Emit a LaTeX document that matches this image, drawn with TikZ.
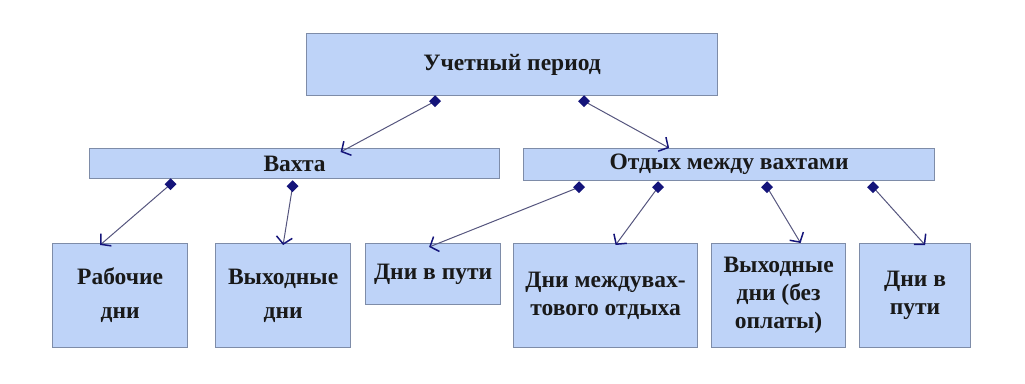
\documentclass[tikz,border=0pt]{standalone}
\usepackage{fontspec}
\setmainfont{Liberation Serif}
\usetikzlibrary{arrows.meta,shapes.geometric}
\definecolor{boxfill}{HTML}{BED3F8}
\definecolor{boxline}{HTML}{7E8CA8}
\definecolor{conline}{HTML}{55557E}
\definecolor{navyc}{HTML}{14147A}
\tikzset{
  box/.style={draw=boxline, line width=1.2pt, fill=boxfill, inner sep=0pt, anchor=north west,
    font=\bfseries\fontsize{23.5}{28}\selectfont, align=center, text=black!90},
  conn/.style={draw=conline, line width=1pt, -{Straight Barb[length=7pt,width=16pt,line width=1.5pt,color=navyc]}},
  dia/.style={diamond, fill=navyc, inner sep=0pt, minimum size=12pt}
}
\begin{document}
\begin{tikzpicture}[x=1pt,y=-1pt]
\useasboundingbox (0,0) rectangle (1025,383);
\node[box, minimum width=411pt, minimum height=62pt] (top) at (306,33) {Учетный период};
\node[box, minimum width=410pt, minimum height=30pt] (vakhta) at (89,148) {Вахта};
\node[box, minimum width=411pt, minimum height=32pt] (otdykh) at (523,148) {Отдых между вахтами};
\node[box, minimum width=135pt, minimum height=104pt, font=\bfseries\fontsize{23.5}{34}\selectfont] (rab) at (52,243) {Рабочие\\дни};
\node[box, minimum width=135pt, minimum height=104pt, font=\bfseries\fontsize{23.5}{34}\selectfont] (vykh) at (215,243) {Выходные\\дни};
\node[box, minimum width=135pt, minimum height=61pt] (put1) at (365,243) {Дни в пути};
\node[box, minimum width=184pt, minimum height=104pt] (mezh) at (513,243) {Дни междувах-\\тового отдыха};
\node[box, minimum width=134pt, minimum height=104pt] (bez) at (711,243) {Выходные\\дни (без\\оплаты)};
\node[box, minimum width=111pt, minimum height=104pt] (put2) at (859,243) {Дни в\\пути};

% connectors
\coordinate (s1) at ([xshift=-77pt,yshift=-5pt]top.south);
\coordinate (s2) at ([xshift=72pt,yshift=-5pt]top.south);
\coordinate (s3) at ([xshift=-124pt,yshift=-5pt]vakhta.south);
\coordinate (s4) at ([xshift=-2pt,yshift=-7pt]vakhta.south);
\coordinate (s5) at ([xshift=-150pt,yshift=-6pt]otdykh.south);
\coordinate (s6) at ([xshift=-71pt,yshift=-6pt]otdykh.south);
\coordinate (s7) at ([xshift=38pt,yshift=-6pt]otdykh.south);
\coordinate (s8) at ([xshift=144pt,yshift=-6pt]otdykh.south);

\draw[conn] (s1) -- ([xshift=46pt,yshift=-4pt]vakhta.north);
\draw[conn] (s2) -- ([xshift=-60pt,yshift=0pt]otdykh.north);
\draw[conn] (s3) -- ([xshift=-20pt,yshift=-2pt]rab.north);
\draw[conn] (s4) -- ([xshift=-0pt,yshift=-2pt]vykh.north);
\draw[conn] (s5) -- ([xshift=-4pt,yshift=-4pt]put1.north);
\draw[conn] (s6) -- ([xshift=10pt,yshift=-2pt]mezh.north);
\draw[conn] (s7) -- ([xshift=22pt,yshift=0pt]bez.north);
\draw[conn] (s8) -- ([xshift=10pt,yshift=-2pt]put2.north);

\foreach \c in {s1,s2,s3,s4,s5,s6,s7,s8} \node[dia] at (\c) {};
\end{tikzpicture}
\end{document}
